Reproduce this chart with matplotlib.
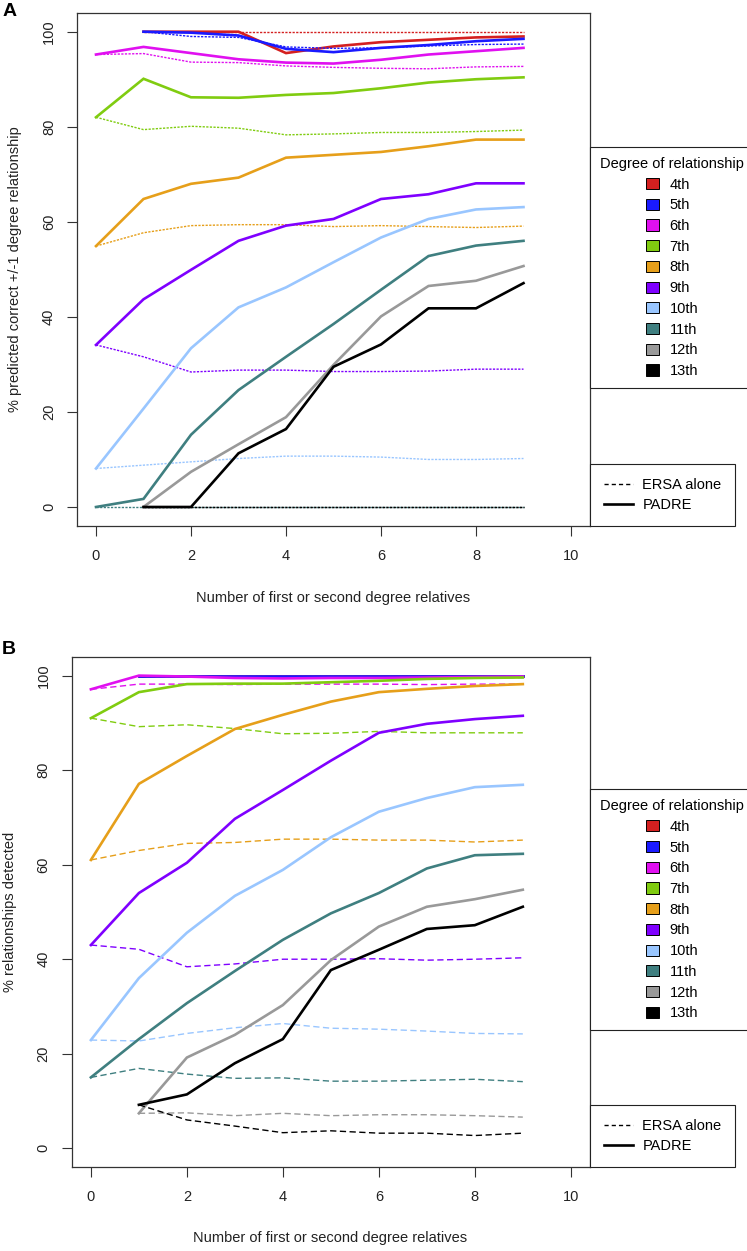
import matplotlib
matplotlib.use("Agg")
import matplotlib.pyplot as plt
from matplotlib.patches import Patch
from matplotlib.lines import Line2D

plt.rcParams["font.family"] = ["Liberation Sans", "DejaVu Sans"]

W, H = 747, 1251

degrees = ["4th", "5th", "6th", "7th", "8th", "9th", "10th", "11th", "12th", "13th"]
colors = ["#D42020", "#1A1AFF", "#E010F0", "#80CC10", "#E69F1A", "#7F00FF",
          "#99C6FF", "#3F7F80", "#999999", "#000000"]
# first number of relatives for which each degree has a value
starts = [1, 1, 0, 0, 0, 0, 0, 0, 1, 1]

# Panel A: % predicted correct +/-1 degree relationship
a_padre = [
    [100, 100, 100, 95.5, 96.9, 97.8, 98.3, 98.8, 99.0],
    [100, 99.8, 99.2, 96.4, 95.7, 96.6, 97.2, 98.0, 98.5],
    [95.2, 96.8, 95.5, 94.2, 93.5, 93.3, 94.1, 95.2, 95.9, 96.6],
    [82.0, 90.1, 86.2, 86.1, 86.7, 87.1, 88.1, 89.3, 90.0, 90.4],
    [54.9, 64.8, 68.0, 69.3, 73.5, 74.1, 74.7, 75.9, 77.3, 77.3],
    [34.1, 43.7, 49.9, 56.0, 59.2, 60.6, 64.8, 65.8, 68.1, 68.1],
    [8.1, 20.7, 33.4, 42.0, 46.2, 51.5, 56.7, 60.6, 62.6, 63.1],
    [0, 1.7, 15.2, 24.6, 31.6, 38.5, 45.7, 52.8, 55.0, 56.0],
    [0, 7.4, 13.2, 18.9, 29.9, 40.1, 46.5, 47.6, 50.7],
    [0, 0, 11.3, 16.4, 29.5, 34.2, 41.8, 41.8, 47.1],
]
a_ersa = [
    [100, 100, 100, 100, 100, 100, 100, 100, 100],
    [100, 99.0, 98.8, 96.8, 96.5, 96.6, 97.0, 97.3, 97.4],
    [95.2, 95.4, 93.6, 93.5, 92.8, 92.5, 92.3, 92.2, 92.6, 92.7],
    [82.0, 79.4, 80.1, 79.7, 78.3, 78.5, 78.8, 78.8, 79.0, 79.3],
    [54.9, 57.7, 59.2, 59.4, 59.4, 59.0, 59.2, 59.0, 58.8, 59.1],
    [34.1, 31.6, 28.4, 28.8, 28.8, 28.5, 28.5, 28.6, 29.0, 29.0],
    [8.1, 8.8, 9.5, 10.2, 10.7, 10.7, 10.5, 10.0, 10.0, 10.2],
    [0, 0, 0, 0, 0, 0, 0, 0, 0, 0],
    [0, 0, 0, 0, 0, 0, 0, 0, 0],
    [0, 0, 0, 0, 0, 0, 0, 0, 0],
]

# Panel B: % relationships detected
b_padre = [
    [100, 100, 100, 100, 100, 100, 100, 100, 100],
    [100, 100, 100, 100, 100, 100, 100, 100, 100],
    [97.1, 100, 99.8, 99.5, 99.4, 99.5, 99.5, 99.6, 99.7, 99.8],
    [91.0, 96.5, 98.2, 98.3, 98.3, 98.6, 98.9, 99.3, 99.5, 99.6],
    [61.0, 77.1, 83.0, 88.7, 91.7, 94.5, 96.5, 97.2, 97.8, 98.2],
    [43.0, 54.0, 60.4, 69.7, 75.8, 82.0, 87.9, 89.8, 90.8, 91.5],
    [22.9, 36.0, 45.6, 53.4, 58.9, 65.8, 71.2, 74.1, 76.4, 76.9],
    [15.0, 23.1, 30.7, 37.5, 44.1, 49.7, 54.0, 59.2, 62.0, 62.3],
    [7.4, 19.2, 24.0, 30.3, 39.8, 46.9, 51.1, 52.7, 54.7],
    [9.2, 11.4, 18.0, 23.1, 37.7, 42.0, 46.4, 47.2, 51.1],
]
b_ersa = [
    [100, 100, 100, 100, 100, 100, 100, 100, 100],
    [99.8, 99.7, 99.6, 99.5, 99.5, 99.6, 99.6, 99.6, 99.6],
    [97.1, 98.2, 98.2, 98.1, 98.2, 98.2, 98.2, 98.1, 98.2, 98.2],
    [91.0, 89.2, 89.6, 88.8, 87.7, 87.8, 88.2, 87.9, 87.9, 87.9],
    [61.0, 63.0, 64.5, 64.7, 65.4, 65.4, 65.2, 65.2, 64.8, 65.2],
    [43.0, 42.1, 38.4, 39.0, 40.0, 40.0, 40.1, 39.8, 40.0, 40.3],
    [22.9, 22.7, 24.3, 25.5, 26.4, 25.4, 25.2, 24.8, 24.3, 24.2],
    [15.0, 16.9, 15.7, 14.8, 14.9, 14.2, 14.2, 14.4, 14.6, 14.1],
    [7.4, 7.5, 6.9, 7.4, 6.9, 7.1, 7.1, 6.9, 6.6],
    [9.2, 6.0, 4.7, 3.3, 3.7, 3.2, 3.2, 2.7, 3.2],
]

xticks = [0, 2, 4, 6, 8, 10]
yticks = [0, 20, 40, 60, 80, 100]
FS = 10.5


def px(x, y):
    return x / W, 1 - y / H


def panel(ax, padre, ersa, ersa_style):
    for i in range(len(degrees)):
        xs = list(range(starts[i], starts[i] + len(padre[i])))
        ax.plot(xs, ersa[i], color=colors[i], lw=1.0, linestyle=ersa_style)
        ax.plot(xs, padre[i], color=colors[i], lw=1.9, solid_joinstyle="miter")
    ax.set_xlim(-0.4, 10.4)
    ax.set_ylim(-4, 104)
    ax.set_xticks(xticks)
    ax.set_yticks(yticks)
    ax.tick_params(length=7.2, width=0.8, color="#333333", labelsize=FS,
                   labelcolor="#222222")
    ax.tick_params(axis="x", pad=9)
    ax.tick_params(axis="y", pad=8)
    for lab in ax.get_yticklabels():
        lab.set_rotation(90)
        lab.set_va("center")
    for s in ax.spines.values():
        s.set_color("#333333")
        s.set_linewidth(0.9)


def legends(fig, top1, top2):
    handles = [Patch(facecolor=c, edgecolor="black", linewidth=0.7) for c in colors]
    leg1 = fig.legend(handles, degrees, title="Degree of relationship",
                      loc="upper left", bbox_to_anchor=px(590, top1),
                      fontsize=FS, title_fontsize=FS, frameon=True,
                      fancybox=False, edgecolor="#222222", framealpha=1,
                      handlelength=0.9, handleheight=0.8, handletextpad=0.75,
                      labelspacing=0.46, borderpad=0.68, borderaxespad=0)
    leg1.get_frame().set_linewidth(0.8)
    lines = [Line2D([], [], color="black", lw=1.0, linestyle=(0, (3, 2.2))),
             Line2D([], [], color="black", lw=1.9)]
    leg2 = fig.legend(lines, ["ERSA alone", "PADRE"],
                      loc="upper left", bbox_to_anchor=px(590, top2),
                      fontsize=FS, frameon=True, fancybox=False,
                      edgecolor="#222222", framealpha=1,
                      handlelength=2.0, handletextpad=0.65,
                      labelspacing=0.4, borderpad=0.95, borderaxespad=0)
    leg2.get_frame().set_linewidth(0.8)


fig = plt.figure(figsize=(W / 100, H / 100), dpi=100)

axA = fig.add_axes([77 / W, 1 - 526 / H, (590 - 77) / W, (526 - 12.7) / H])
panel(axA, a_padre, a_ersa, (0, (1.6, 1.0)))
axB = fig.add_axes([71.7 / W, 1 - 1167.2 / H, (590 - 71.7) / W, (1167.2 - 656.7) / H])
panel(axB, b_padre, b_ersa, (0, (4.5, 2.5)))

legends(fig, 147, 464.3)
legends(fig, 789.3, 1105)

fig.text(*px(10, 11), "A", fontsize=14, fontweight="bold", ha="center", va="center")
fig.text(*px(9, 650), "B", fontsize=14, fontweight="bold", ha="center", va="center")

fig.text(*px(15.5, 269), "% predicted correct +/-1 degree relationship",
         rotation=90, ha="center", va="center", fontsize=FS, color="#222222")
fig.text(*px(10, 912), "% relationships detected",
         rotation=90, ha="center", va="center", fontsize=FS, color="#222222")
fig.text(*px(333, 598), "Number of first or second degree relatives",
         ha="center", va="center", fontsize=FS, color="#222222")
fig.text(*px(330, 1238), "Number of first or second degree relatives",
         ha="center", va="center", fontsize=FS, color="#222222")

fig.savefig("out.png", dpi=100)
